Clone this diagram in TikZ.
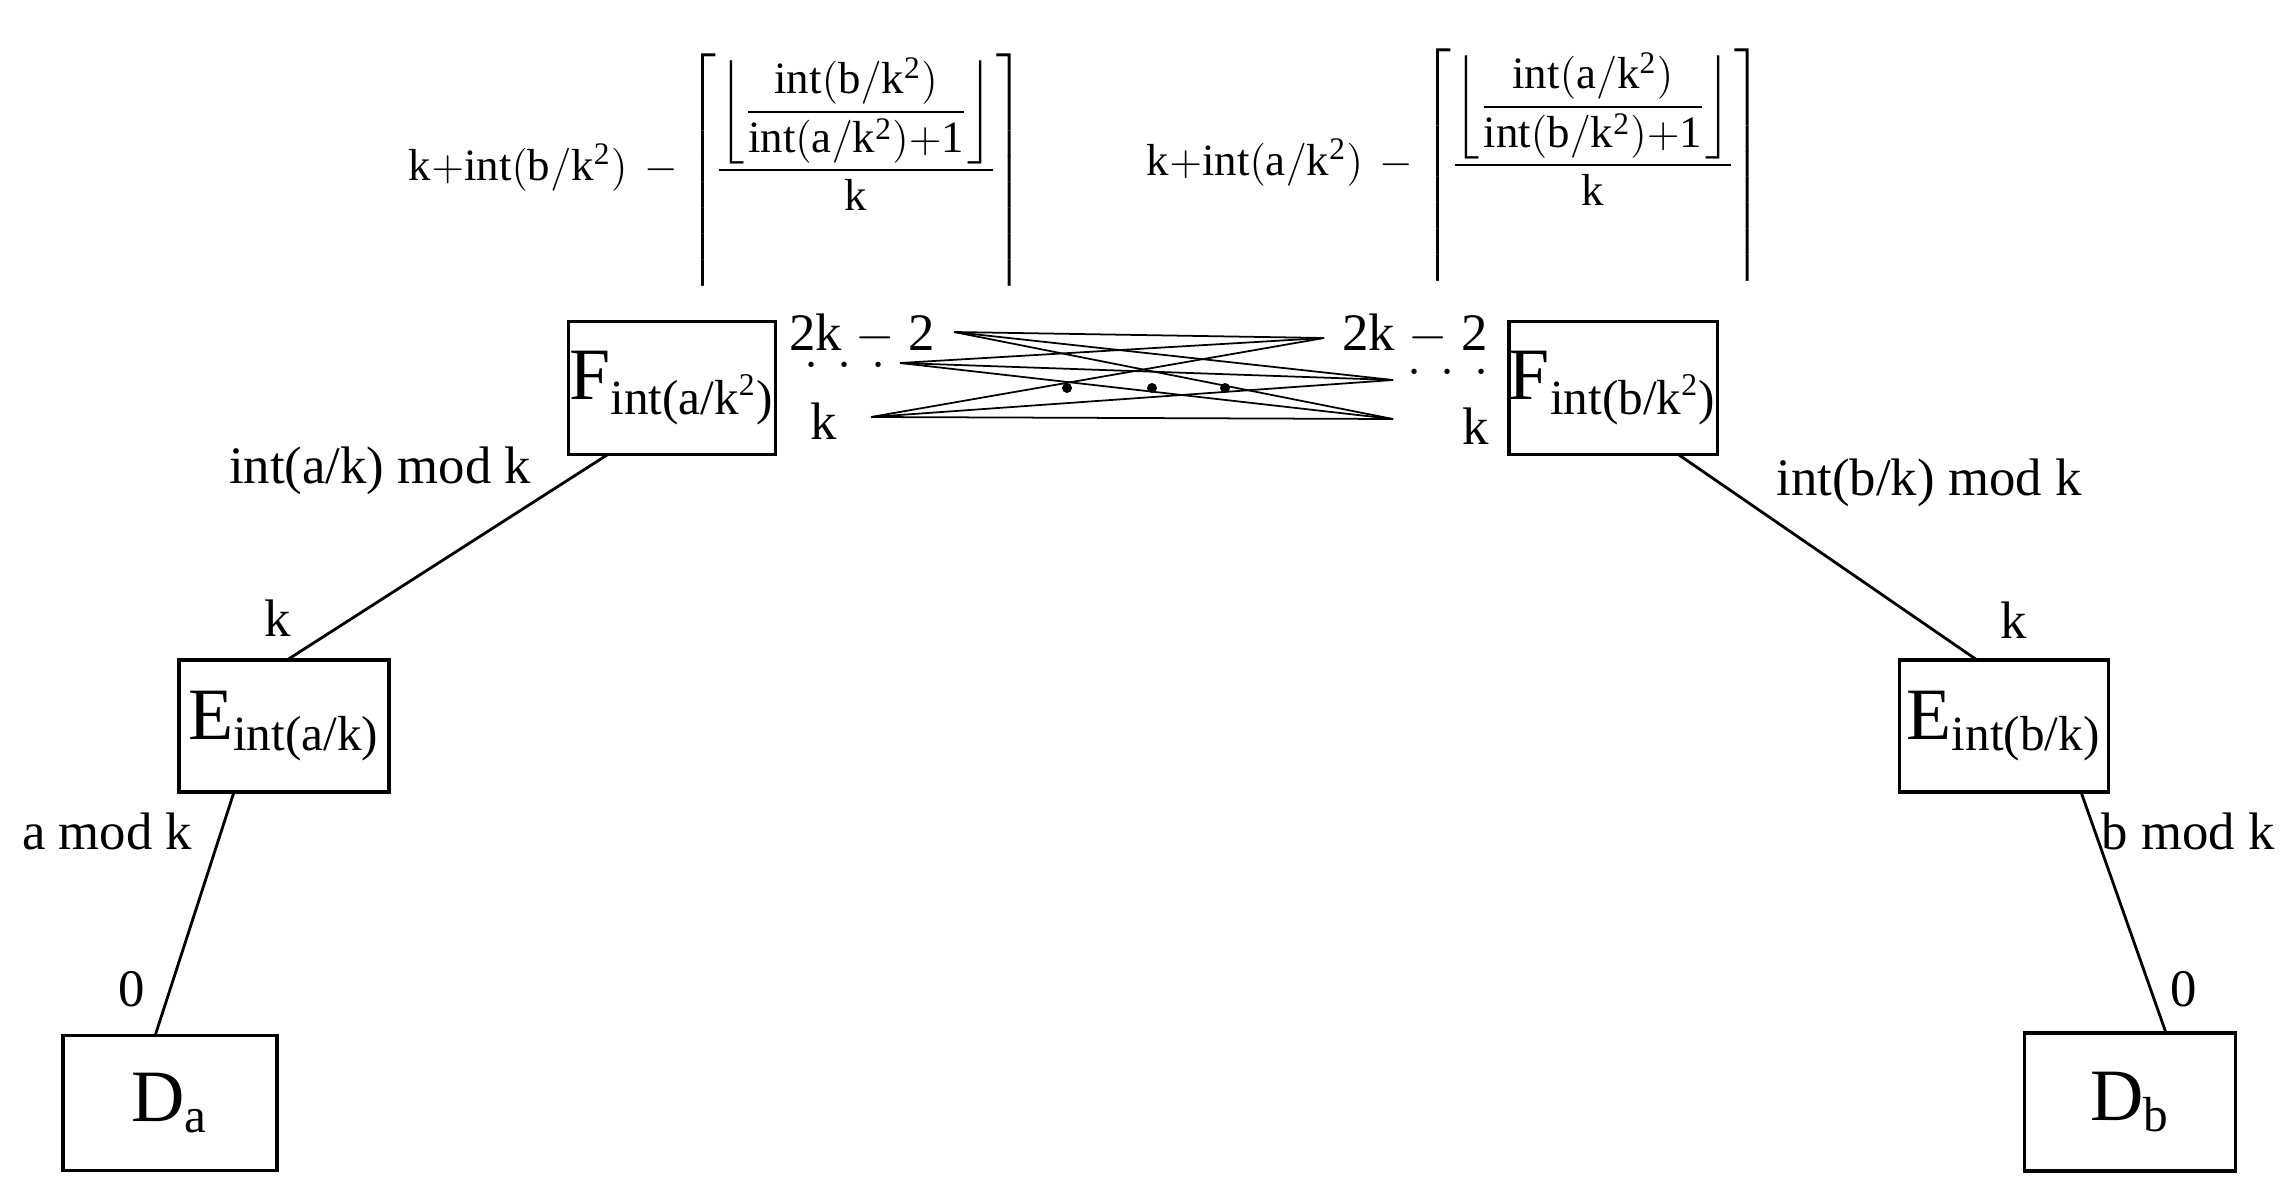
\documentclass[tikz,border=0pt]{standalone}
\usepackage{amsmath}
\usepackage{fontspec}
\setmainfont{Liberation Serif}
\begin{document}
\begin{tikzpicture}[x=0.01cm,y=-0.01cm,
 box/.style={draw,line width=0.9pt,inner sep=0pt},
 lab/.style={font=\fontsize{15}{17}\selectfont,inner sep=1pt},
 big/.style={font=\fontsize{21}{23}\selectfont},
 ln/.style={line width=0.8pt},
 thin/.style={line width=0.5pt}]
\useasboundingbox (0,0) rectangle (2283,1197);
\node[box,minimum height=133*0.2845pt,minimum width=207*0.2845pt,big] (Fa) at (672,388) {F$_{\text{\fontsize{14}{16}\selectfont int(a/k}^{\text{\fontsize{9}{10}\selectfont 2}}\text{\fontsize{14}{16}\selectfont )}}$};
\node[box,minimum height=133*0.2845pt,minimum width=208*0.2845pt,big] (Fb) at (1613,388) {F$_{\text{\fontsize{14}{16}\selectfont int(b/k}^{\text{\fontsize{9}{10}\selectfont 2}}\text{\fontsize{14}{16}\selectfont )}}$};
\node[box,minimum height=132*0.2845pt,minimum width=210*0.2845pt,big] (Ea) at (284,726) {E$_{\text{\fontsize{14}{16}\selectfont int(a/k)}}$};
\node[box,minimum height=132*0.2845pt,minimum width=209*0.2845pt,big] (Eb) at (2004,726) {E$_{\text{\fontsize{14}{16}\selectfont int(b/k)}}$};
\node[box,minimum height=135*0.2845pt,minimum width=214*0.2845pt,big] (Da) at (170,1103) {D$_{\text{\fontsize{14}{16}\selectfont a}}$};
\node[box,minimum height=138*0.2845pt,minimum width=211*0.2845pt,big] (Db) at (2130,1102) {D$_{\text{\fontsize{14}{16}\selectfont b}}$};
\coordinate (fa1) at (607,455); \coordinate (ea1) at (287,660);
\coordinate (ea2) at (234,792); \coordinate (da1) at (155,1036);
\coordinate (fb1) at (1679,455); \coordinate (eb1) at (1977,660);
\coordinate (eb2) at (2081,792); \coordinate (db1) at (2166,1033);
\draw[ln] (fa1) -- (ea1); \draw[ln] (ea2) -- (da1);
\draw[ln] (fb1) -- (eb1); \draw[ln] (eb2) -- (db1);
\node[lab] (l1) at (380,471) {int(a/k) mod k};
\node[lab] (l2) at (278,618) {k};
\node[lab] (l3) at (107,831) {a mod k};
\node[lab] (l4) at (132,989) {0};
\node[lab] (l5) at (1929,483) {int(b/k) mod k};
\node[lab] (l6) at (2014,620) {k};
\node[lab] (l7) at (2188,831) {b mod k};
\node[lab] (l8) at (2184,989) {0};
\node[lab] (p1) at (862,334) {2k $-$ 2};
\node[lab] (p2) at (845,366) {$\cdot\,\cdot\,\cdot$};
\node[lab] (p3) at (824,421) {k};
\node[lab] (q1) at (1415,334) {2k $-$ 2};
\node[lab] (q2) at (1448,373) {$\cdot\,\cdot\,\cdot$};
\node[lab] (q3) at (1476,426) {k};
\coordinate (L1) at (954,332); \coordinate (L2) at (900,363); \coordinate (L3) at (871,417);
\coordinate (R1) at (1324,338); \coordinate (R2) at (1393,380); \coordinate (R3) at (1393,419);
\foreach \a in {L1,L2,L3}{\foreach \b in {R1,R2,R3}{\draw[thin] (\a) -- (\b);}}
\fill (1067,388) circle (5); \fill (1152,388) circle (5); \fill (1225,388) circle (5);
\node[lab,scale=0.85,anchor=north] (fl) at (717,50) {$\mathrm{k{+}int(b/k^2)}\,-\left\lceil\dfrac{\left\lfloor\dfrac{\mathrm{int(b/k^2)}}{\mathrm{int(a/k^2){+}1}}\right\rfloor}{\mathrm{k}}\right\rceil$};
\node[lab,scale=0.85,anchor=north] (fr) at (1455,45) {$\mathrm{k{+}int(a/k^2)}\,-\left\lceil\dfrac{\left\lfloor\dfrac{\mathrm{int(a/k^2)}}{\mathrm{int(b/k^2){+}1}}\right\rfloor}{\mathrm{k}}\right\rceil$};
\end{tikzpicture}
\end{document}
